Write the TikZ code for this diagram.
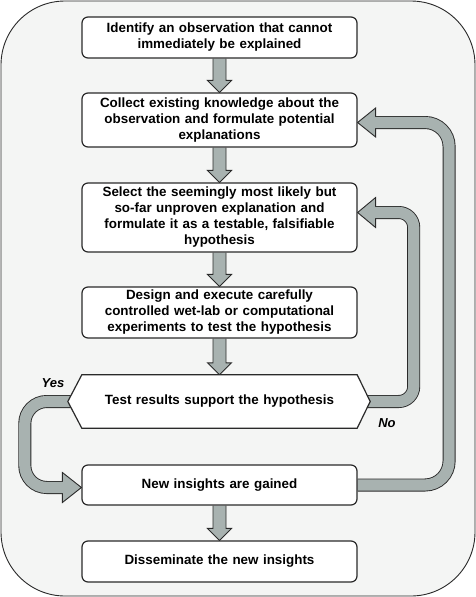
\documentclass[tikz,border=0pt]{standalone}
\usepackage{fontspec}
\setmainfont{Liberation Sans}
\usetikzlibrary{calc}
\pgfdeclarelayer{framelayer}
\pgfdeclarelayer{arrowlayer}
\pgfdeclarelayer{shapelayer}
\pgfsetlayers{framelayer,arrowlayer,shapelayer,main}
\definecolor{framefill}{HTML}{F4F5F4}
\definecolor{arrowfill}{HTML}{A8B2B0}
\definecolor{edgecol}{HTML}{2A2A2A}
\newcommand\blkdown[2]{%
  \draw[blockarrow] ($(#1.south)+(-6.5,0)$) -- ($(#2.north)+(-6.5,-12)$) -- ($(#2.north)+(-12,-12)$) -- (#2.north) -- ($(#2.north)+(12,-12)$) -- ($(#2.north)+(6.5,-12)$) -- ($(#1.south)+(6.5,0)$);}
\begin{document}
\begin{tikzpicture}[x=1pt,y=-1pt,
  stepbox/.style={draw=edgecol, line width=1.2pt, fill=white, rounded corners=6pt,
    minimum width=275pt, text width=272pt, align=center, inner sep=0pt,
    font=\bfseries\fontsize{13.4}{16}\selectfont},
  hexlabel/.style={draw=none, minimum width=275pt, text width=272pt, align=center, inner sep=0pt,
    font=\bfseries\fontsize{13.4}{16}\selectfont},
  hexshape/.style={draw=edgecol, line width=1.2pt, fill=white, line join=miter},
  blockarrow/.style={draw=edgecol, line width=0.9pt, fill=arrowfill, line join=miter},
  loopouter/.style={draw=edgecol, line width=13pt},
  loopinner/.style={draw=arrowfill, line width=11.2pt},
  lbl/.style={font=\bfseries\itshape\fontsize{13}{15}\selectfont, inner sep=0pt}]
\useasboundingbox (0,0) rectangle (476,597);
\begin{pgfonlayer}{framelayer}
  \draw[draw=edgecol, line width=0.9pt, fill=framefill, rounded corners=64pt] (1,1) rectangle (475,596);
\end{pgfonlayer}

\node[stepbox, minimum height=41pt] (b1) at (219.5,37.5) {Identify an observation that cannot\\immediately be explained};
\node[stepbox, minimum height=54pt] (b2) at (219.5,120) {Collect existing knowledge about the\\observation and formulate potential\\explanations};
\node[stepbox, minimum height=69pt] (b3) at (219.5,217.5) {Select the seemingly most likely but\\so-far unproven explanation and\\formulate it as a testable, falsifiable\\hypothesis};
\node[stepbox, minimum height=51pt] (b4) at (219.5,312.5) {Design and execute carefully\\controlled wet-lab or computational\\experiments to test the hypothesis};
\node[hexlabel, minimum height=53pt] (hex) at (219.5,401.5) {Test results support the hypothesis};
\node[stepbox, minimum height=40pt] (b5) at (219.5,485) {New insights are gained};
\node[stepbox, minimum height=41pt] (b6) at (219.5,561.5) {Disseminate the new insights};

\coordinate (hexW) at ($(hex.west)+(-14,0)$);
\coordinate (hexE) at ($(hex.east)+(13,0)$);
\begin{pgfonlayer}{shapelayer}
  \draw[hexshape] (hex.north west) -- (hex.north east) -- (hexE) -- (hex.south east) -- (hex.south west) -- (hexW) -- cycle;
\end{pgfonlayer}

\node[lbl] (yes) at (53,383) {Yes};
\node[lbl] (no) at (387,423) {No};

\begin{pgfonlayer}{arrowlayer}
  \blkdown{b1}{b2}
  \blkdown{b2}{b3}
  \blkdown{b3}{b4}
  \blkdown{b4}{hex}
  \blkdown{b5}{b6}
  % big loop: new insights -> collect knowledge
  \coordinate (t2) at ($(b2.east)+(0,2.5)$);
  \coordinate (c1) at ($(b5.east)+(91.5,0)$);
  \draw[loopouter, rounded corners=24pt] (b5.east) -- (c1) -- (c1 |- t2) -- ($(t2)+(18,0)$);
  \draw[blockarrow] ($(t2)+(18,-14.5)$) -- (t2) -- ($(t2)+(18,14.5)$) -- cycle;
  \draw[loopinner, rounded corners=24pt] (b5.east) -- (c1) -- (c1 |- t2) -- ($(t2)+(16.5,0)$);
  % no loop: hexagon -> select hypothesis
  \coordinate (t3) at ($(b3.east)+(0,-5)$);
  \coordinate (c2) at ($(hex.east)+(56.5,0)$);
  \draw[loopouter, rounded corners=15pt] (hex.east) -- (c2) -- (c2 |- t3) -- ($(t3)+(18,0)$);
  \draw[blockarrow] ($(t3)+(18,-15)$) -- (t3) -- ($(t3)+(18,15)$) -- cycle;
  \draw[loopinner, rounded corners=15pt] (hex.east) -- (c2) -- (c2 |- t3) -- ($(t3)+(16.5,0)$);
  % yes loop: hexagon -> new insights
  \coordinate (t5) at ($(b5.west)+(0,2.5)$);
  \coordinate (c3) at ($(hex.west)+(-57,0)$);
  \draw[loopouter, rounded corners=22pt] (hex.west) -- (c3) -- (c3 |- t5) -- ($(t5)+(-19,0)$);
  \draw[blockarrow] ($(t5)+(-19,-15)$) -- (t5) -- ($(t5)+(-19,15)$) -- cycle;
  \draw[loopinner, rounded corners=22pt] (hex.west) -- (c3) -- (c3 |- t5) -- ($(t5)+(-17.5,0)$);
\end{pgfonlayer}
\end{tikzpicture}
\end{document}
